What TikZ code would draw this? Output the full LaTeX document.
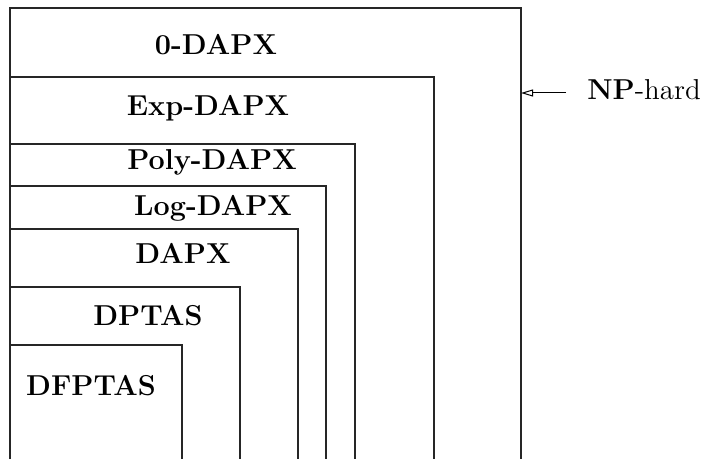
\documentclass[tikz,border=0pt]{standalone}
\usetikzlibrary{arrows.meta}
\begin{document}
\begin{tikzpicture}[x=0.5pt,y=-0.5pt,
  boxline/.style={line width=0.6pt,black!85},
  lab/.style={font=\Large\bfseries,inner sep=0pt,anchor=center},
  nplab/.style={font=\Large,inner sep=0pt,anchor=center}]
\useasboundingbox (0,0) rectangle (704,459);
% nested boxes, open at the bottom
\draw[boxline] (10,459) -- (10,8) -- (521,8) -- (521,459);
\draw[boxline] (10,77) -- (434,77) -- (434,459);
\draw[boxline] (10,144) -- (355,144) -- (355,459);
\draw[boxline] (10,186) -- (326,186) -- (326,459);
\draw[boxline] (10,229) -- (298,229) -- (298,459);
\draw[boxline] (10,287) -- (240,287) -- (240,459);
\draw[boxline] (10,345) -- (182,345) -- (182,459);
% labels
\node[lab] (zero) at (216,45) {0-DAPX};
\node[lab] (exp) at (208,108) {Exp-DAPX};
\node[lab] (poly) at (212,162) {Poly-DAPX};
\node[lab] (log) at (213,208) {Log-DAPX};
\node[lab] (dapx) at (183,253) {DAPX};
\node[lab] (dptas) at (148,316) {DPTAS};
\node[lab] (dfptas) at (91,386) {DFPTAS};
\node[nplab] (np) at (644,90) {\textbf{NP}-hard};
\coordinate (edge) at (521,93);
\coordinate (tail) at (566,93);
\draw[line width=0.5pt,-{Triangle[open,length=6pt,width=3.5pt]}] (tail) -- (edge);
\end{tikzpicture}
\end{document}
